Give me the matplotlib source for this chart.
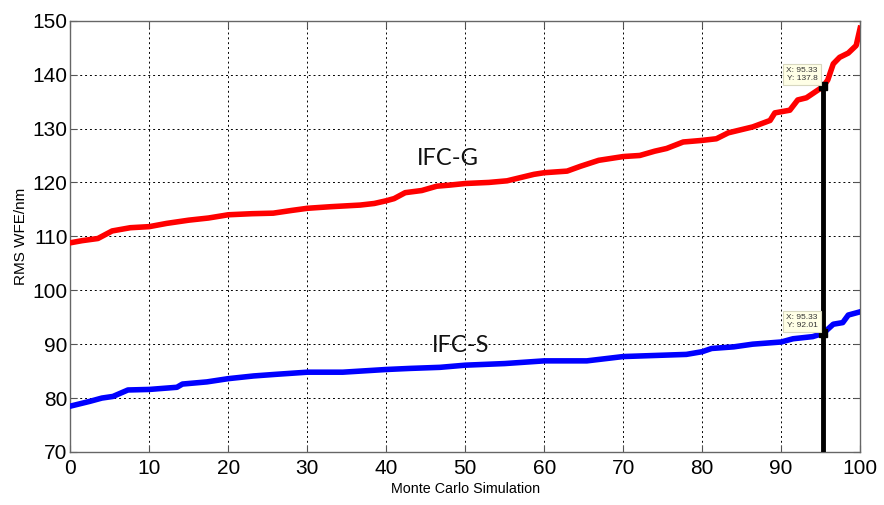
import matplotlib
matplotlib.use("Agg")
import matplotlib.pyplot as plt
import numpy as np

# Data
g_x = [0, 1.5, 3.5, 5.3, 7.6, 10, 12.2, 15, 17.5, 20, 23, 25.7, 28, 30, 33, 36.7, 38.5, 40, 41, 42.4, 44.5, 46.4, 48, 50, 53,
       55.3, 57, 58.7, 60, 62.9, 64.6, 66.9, 70, 72.1, 74, 75.5, 77.6, 80, 81.8, 83.3, 86.4, 88.6, 89.2, 91.1, 92.1, 93.2,
       95.33, 95.9, 96.6, 97.4, 98.5, 99.5, 100]
g_y = [108.8, 109.2, 109.6, 111.0, 111.6, 111.8, 112.4, 113.0, 113.4, 114.0, 114.2, 114.3, 114.8, 115.2, 115.5, 115.8,
       116.1, 116.6, 117.0, 118.1, 118.5, 119.3, 119.5, 119.8, 120.0, 120.3, 120.9, 121.5, 121.8, 122.1, 123.0, 124.1,
       124.8, 125.0, 125.8, 126.3, 127.5, 127.8, 128.1, 129.2, 130.3, 131.5, 132.9, 133.4, 135.3, 135.7, 137.8, 139.0,
       142.0, 143.2, 144.0, 145.4, 148.6]

s_x = [0, 2.5, 4, 5.4, 7.3, 10, 13.5, 14.2, 17.3, 20, 23.2, 26, 30, 34.5, 40, 43, 46.8, 50, 55, 60, 65.4, 70, 74, 78,
       80, 81.2, 84, 86.4, 90, 91.5, 94, 95.33, 96.6, 97.8, 98.5, 100]
s_y = [78.5, 79.4, 80.0, 80.3, 81.5, 81.6, 82.0, 82.6, 83.0, 83.6, 84.1, 84.4, 84.8, 84.8, 85.3, 85.5, 85.7, 86.1, 86.4,
       86.9, 86.9, 87.7, 87.9, 88.1, 88.6, 89.2, 89.5, 90.0, 90.4, 91.0, 91.4, 92.01, 93.7, 94.0, 95.4, 96.0]

tip_x = 95.33
tip_g = 137.8
tip_s = 92.01

x_ticks = list(range(0, 101, 10))
y_ticks = list(range(70, 151, 10))

tick_font = ['Liberation Sans Narrow', 'Liberation Sans', 'DejaVu Sans']

fig = plt.figure(figsize=(8.84, 5.05), dpi=100)
ax = fig.add_axes([0.0795, 0.105, 0.8935, 0.854])

ax.plot(g_x, g_y, color='#ff0000', lw=4, solid_joinstyle='round', zorder=3)
ax.plot(s_x, s_y, color='#0000ff', lw=4, solid_joinstyle='round', zorder=3)
ax.plot([tip_x, tip_x], [70, tip_g], color='black', lw=3.5, zorder=4)

for yv in (tip_g, tip_s):
    ax.plot([tip_x], [yv], marker='s', color='black', ms=6, zorder=5)
    ax.annotate(f"X: {tip_x}\nY: {yv:g}", xy=(tip_x, yv), xytext=(-4, 3), textcoords='offset points',
                ha='right', va='bottom', fontsize=6, color='#333333', family=tick_font,
                bbox=dict(boxstyle='square,pad=0.35', fc='#ffffe6', ec='#d8d8c0', lw=0.8), zorder=6)

ax.text(43.9, 124.5, "IFC-G", fontsize=17, family=['Lato', 'DejaVu Sans'], ha='left', va='center', color='#111111')
ax.text(45.8, 89.8, "IFC-S", fontsize=17, family=['Lato', 'DejaVu Sans'], ha='left', va='center', color='#111111')

ax.set_xlim(0, 100)
ax.set_ylim(70, 150)
ax.set_xticks(x_ticks)
ax.set_yticks(y_ticks)
ax.set_xticklabels([str(v) for v in x_ticks], family=tick_font, fontsize=15)
ax.set_yticklabels([str(v) for v in y_ticks], family=tick_font, fontsize=15)
ax.tick_params(axis='both', direction='in', length=5, top=True, right=True, color='#555555')
ax.tick_params(axis='x', pad=5)
ax.tick_params(axis='y', pad=2)
ax.grid(True, color='black', linestyle=(0, (2, 3)), lw=0.7)
for sp in ax.spines.values():
    sp.set_color('#666666')
    sp.set_linewidth(1.0)

ax.set_xlabel("Monte Carlo Simulation", family=tick_font, fontsize=10.3, labelpad=3)
ax.set_ylabel("RMS WFE/nm", family=tick_font, fontsize=11, labelpad=3)

fig.savefig("out.png", dpi=100)
